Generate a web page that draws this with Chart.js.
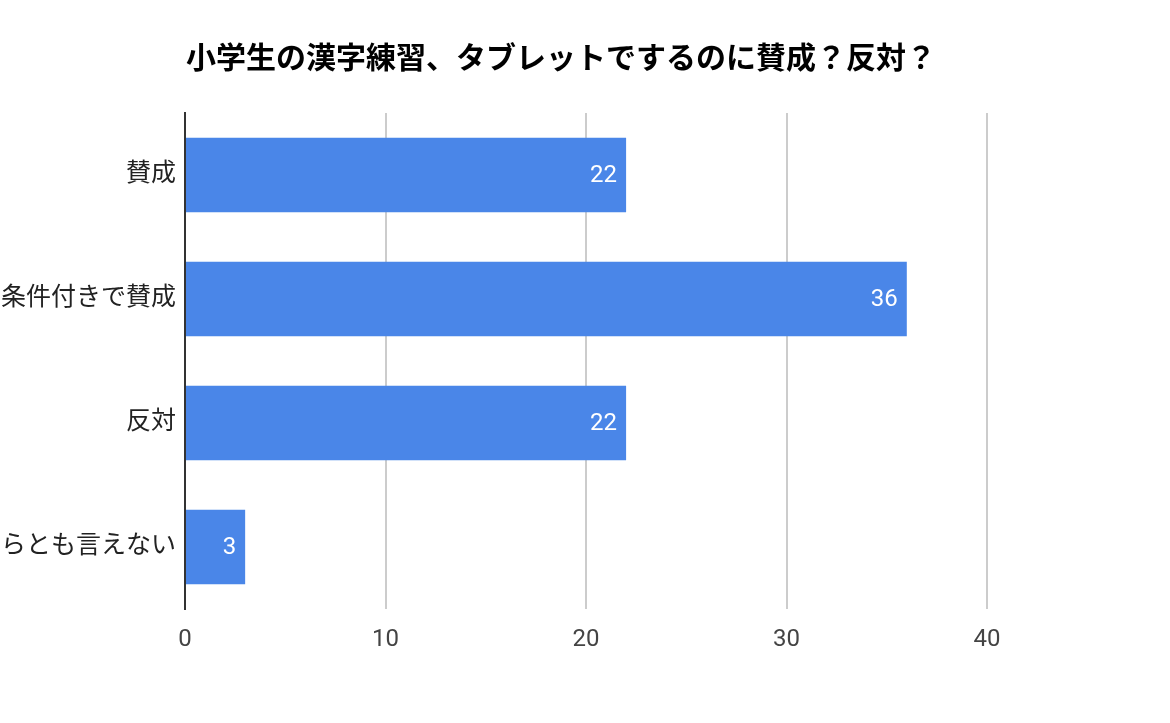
<!DOCTYPE html>
<html>
<head>
<meta charset="utf-8">
<script src="https://cdn.jsdelivr.net/npm/chart.js@4/dist/chart.umd.min.js"></script>
<style>
html,body{margin:0;padding:0;background:#fff;}
#wrap{width:1170px;height:723px;position:relative;}
</style>
</head>
<body>
<div id="wrap"><canvas id="c" width="1170" height="723"></canvas></div>
<script>
const titleText = '小学生の漢字練習、タブレットでするのに賛成？反対？';
const categories = ['賛成', '条件付きで賛成', '反対', 'どちらとも言えない'];
const values = [22, 36, 22, 3];
const xTicks = [0, 10, 20, 30, 40];

const FONT = "Roboto, 'Noto Sans CJK JP', sans-serif";

const titlePlugin = {
  id: 'leftTitle',
  afterDraw(chart) {
    const ctx = chart.ctx;
    ctx.save();
    ctx.font = "bold 30px 'Noto Sans CJK JP', sans-serif";
    ctx.fillStyle = '#000';
    ctx.textAlign = 'left';
    ctx.textBaseline = 'middle';
    ctx.fillText(titleText, chart.chartArea.left + 1, 57);
    ctx.restore();
  }
};

const valueLabels = {
  id: 'valueLabels',
  afterDatasetsDraw(chart) {
    const ctx = chart.ctx;
    const meta = chart.getDatasetMeta(0);
    ctx.save();
    ctx.font = "24px " + FONT;
    ctx.fillStyle = '#ffffff';
    ctx.textAlign = 'right';
    ctx.textBaseline = 'middle';
    meta.data.forEach((el, i) => {
      ctx.fillText(String(values[i]), el.x - 9, el.y + 1);
    });
    ctx.restore();
  }
};

new Chart(document.getElementById('c'), {
  type: 'bar',
  data: {
    labels: categories,
    datasets: [{
      data: values,
      backgroundColor: '#4a86e8',
      borderWidth: 0,
      barPercentage: 0.6,
      categoryPercentage: 1.0
    }]
  },
  options: {
    indexAxis: 'y',
    responsive: false,
    animation: false,
    devicePixelRatio: 1,
    layout: { padding: { top: 113, right: 183, left: 0, bottom: 0 } },
    plugins: {
      legend: { display: false },
      title: { display: false },
      tooltip: { enabled: false }
    },
    scales: {
      x: {
        min: 0,
        max: 40,
        afterBuildTicks(scale) { scale.ticks = xTicks.map(v => ({ value: v })); },
        afterFit(scale) { scale.height = 114; },
        grid: { color: '#cccccc', lineWidth: 2, drawTicks: false },
        border: { display: false },
        ticks: {
          padding: 17,
          color: '#444444',
          font: { family: FONT, size: 24 }
        }
      },
      y: {
        afterFit(scale) { scale.width = 185; },
        grid: { display: false, drawTicks: false },
        border: { display: true, color: '#333333', width: 2 },
        ticks: {
          padding: 9,
          color: '#222222',
          font: { family: FONT, size: 25 }
        }
      }
    }
  },
  plugins: [titlePlugin, valueLabels]
});
</script>
</body>
</html>
